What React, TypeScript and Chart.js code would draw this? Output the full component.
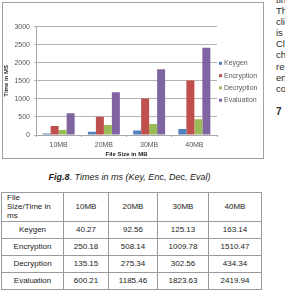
import React, { useEffect, useRef } from 'react';
import { Chart, registerables } from 'chart.js';

Chart.register(...registerables);

// Measured times (ms) per file size
const fileSizes = ['10MB', '20MB', '30MB', '40MB'];
const keygenMs = [40.27, 92.56, 125.13, 163.14];
const encryptionMs = [250.18, 508.14, 1009.78, 1510.47];
const decryptionMs = [135.15, 275.34, 302.56, 434.34];
const evaluationMs = [600.21, 1185.46, 1823.63, 2419.94];

const seriesNames = ['Keygen', 'Encryption', 'Decryption', 'Evaluation'];
const seriesValues = [keygenMs, encryptionMs, decryptionMs, evaluationMs];
const seriesColors = ['#4F81BD', '#C0504D', '#9BBB59', '#8064A2'];

const yMin = 0;
const yMax = 3000;
const yStep = 500;

// Fragments of the neighbouring text column that are cut off by the page edge
const sideLines = ['tin', 'Th', 'cli', 'is', 'Cl', 'ch', 're', 'en', 'co'];

const FONT = '"Liberation Sans", Arial, sans-serif';

// Legend stacked to the right of the plot area
const sideLegend = {
  id: 'sideLegend',
  afterDraw(chart: any) {
    const { ctx, chartArea } = chart;
    const sets = chart.data.datasets;
    const gap = 12.3;
    const midY = (chartArea.top + chartArea.bottom) / 2 + 0.9;
    const x = chartArea.right + 2;
    ctx.save();
    ctx.font = `7px ${FONT}`;
    ctx.textBaseline = 'middle';
    ctx.textAlign = 'left';
    sets.forEach((ds: any, i: number) => {
      const y = midY + (i - (sets.length - 1) / 2) * gap;
      ctx.fillStyle = ds.backgroundColor;
      ctx.fillRect(x, y - 1.5, 3, 3);
      ctx.fillStyle = '#5a5a5a';
      ctx.fillText(ds.label, x + 5, y);
    });
    ctx.restore();
  },
};

function TimesChart() {
  const ref = useRef<HTMLCanvasElement | null>(null);

  useEffect(() => {
    if (!ref.current) return;
    const chart = new Chart(ref.current, {
      type: 'bar',
      data: {
        labels: fileSizes,
        datasets: seriesNames.map((name, i) => ({
          label: name,
          data: seriesValues[i],
          backgroundColor: seriesColors[i],
          borderWidth: 0,
          categoryPercentage: 0.707,
          barPercentage: 1,
        })),
      },
      options: {
        animation: false,
        responsive: false,
        maintainAspectRatio: false,
        layout: { padding: { top: 23.7, right: 46, bottom: 0, left: 0 } },
        plugins: {
          legend: { display: false },
          tooltip: { enabled: false },
        },
        scales: {
          x: {
            grid: {
              drawOnChartArea: false,
              drawTicks: true,
              tickLength: 2,
              color: '#a6a6a6',
              offset: true,
            },
            border: { color: '#a6a6a6' },
            ticks: { font: { size: 7, family: FONT }, color: '#555', padding: 4 },
            title: {
              display: true,
              text: 'File Size in MB',
              font: { size: 6, weight: 'bold', family: FONT },
              color: '#222',
              padding: 0,
            },
            afterFit: (s: any) => {
              s.height = 23;
            },
          },
          y: {
            min: yMin,
            max: yMax,
            ticks: {
              stepSize: yStep,
              font: { size: 7, family: FONT },
              color: '#555',
              padding: 4,
              callback: (v: any) => String(v),
            },
            grid: { color: '#b4b4b4', tickLength: 2 },
            border: { color: '#a6a6a6' },
            title: {
              display: true,
              text: 'Time in MS',
              font: { size: 6, weight: 'bold', family: FONT },
              color: '#222',
              padding: 0,
            },
            afterFit: (s: any) => {
              s.width = 33;
            },
          },
        },
      } as any,
      plugins: [sideLegend],
    });
    return () => chart.destroy();
  }, []);

  return (
    <canvas
      ref={ref}
      width={260}
      height={155}
      style={{ position: 'absolute', left: 0, top: 0, width: 260, height: 155 }}
    />
  );
}

const cell: React.CSSProperties = {
  border: '1px solid #9a9a9a',
  padding: 0,
  textAlign: 'center',
  verticalAlign: 'middle',
  height: 16,
};

export default function App() {
  const rows = seriesNames.map((name, i) => [name, ...seriesValues[i].map((v) => v.toFixed(2))]);
  return (
    <div
      style={{
        position: 'absolute',
        left: 0,
        top: 0,
        width: 285,
        height: 297,
        overflow: 'hidden',
        background: '#fff',
        fontFamily: FONT,
        color: '#222',
      }}
    >
      <div
        style={{
          position: 'absolute',
          left: 2,
          top: 2,
          width: 260,
          height: 155,
          border: '1px solid #a0a0a0',
        }}
      >
        <TimesChart />
      </div>

      <div
        style={{
          position: 'absolute',
          left: 0,
          top: 171,
          width: 259,
          textAlign: 'center',
          fontSize: 9,
          lineHeight: '12px',
          fontStyle: 'italic',
          color: '#1a1a1a',
        }}
      >
        <b>Fig.8</b>. Times in ms (Key, Enc, Dec, Eval)
      </div>

      <table
        style={{
          position: 'absolute',
          left: 1,
          top: 192,
          borderCollapse: 'collapse',
          tableLayout: 'fixed',
          width: 260,
          fontSize: 8,
          color: '#222',
        }}
      >
        <colgroup>
          <col style={{ width: 62 }} />
          <col style={{ width: 45 }} />
          <col style={{ width: 49 }} />
          <col style={{ width: 51 }} />
          <col style={{ width: 53 }} />
        </colgroup>
        <tbody>
          <tr>
            <td style={{ ...cell, height: 27, textAlign: 'left', paddingLeft: 5, lineHeight: '9.2px' }}>
              File
              <br />
              Size/Time in
              <br />
              ms
            </td>
            {fileSizes.map((f) => (
              <td key={f} style={{ ...cell, height: 27 }}>
                {f}
              </td>
            ))}
          </tr>
          {rows.map((r) => (
            <tr key={r[0]}>
              {r.map((c, j) => (
                <td key={j} style={cell}>
                  {c}
                </td>
              ))}
            </tr>
          ))}
        </tbody>
      </table>

      <div
        style={{
          position: 'absolute',
          left: 276,
          top: -6,
          fontSize: 9.5,
          lineHeight: '11.1px',
          color: '#2a2a2a',
          whiteSpace: 'nowrap',
        }}
      >
        {sideLines.map((t, i) => (
          <div key={i}>{t}</div>
        ))}
      </div>
      <div
        style={{
          position: 'absolute',
          left: 276,
          top: 105,
          fontSize: 10,
          lineHeight: '13px',
          fontWeight: 'bold',
          color: '#2a2a2a',
        }}
      >
        7
      </div>
    </div>
  );
}
